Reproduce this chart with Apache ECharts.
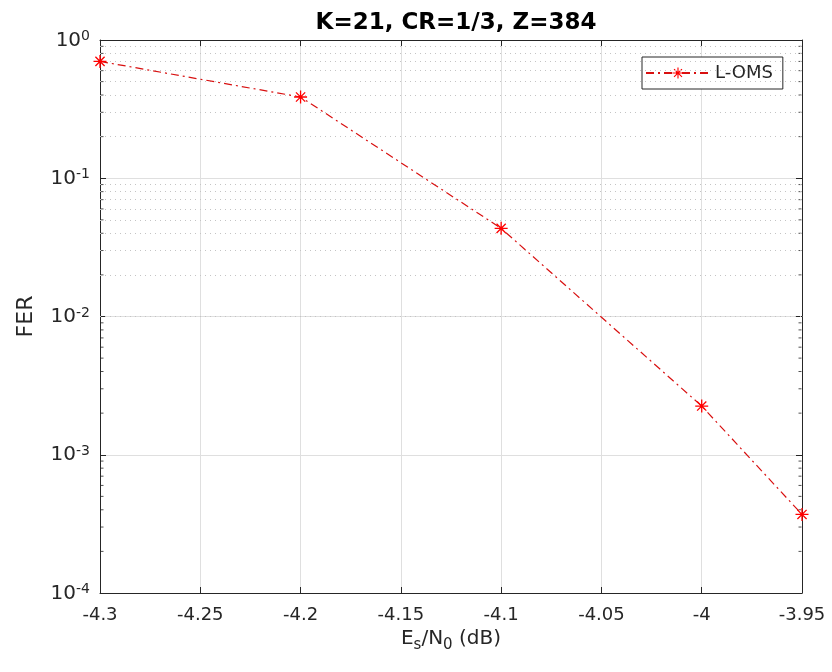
<!DOCTYPE html>
<html>
<head>
<meta charset="utf-8">
<script src="https://cdn.jsdelivr.net/npm/echarts@6/dist/echarts.min.js"></script>
<style>
  html, body { margin: 0; padding: 0; background: #fff; }
  #fer { width: 832px; height: 672px; }
</style>
</head>
<body>
<div id="fer"></div>
<script>
var ferChart = echarts.init(document.getElementById("fer"));

// Es/N0 in dB and the frame error rate
let snrDb = [-4.3, -4.2, -4.1, -4.0, -3.95];
let ferLoms = [0.70, 0.387, 0.0434, 0.00225, 0.00037];

// minor log grid lines (2..9 x 10^k)
let minorGrid = [];
for (let k = -4; k <= -1; k++) {
  for (let m = 2; m <= 9; m++) {
    minorGrid.push(m * Math.pow(10, k));
  }
}

// asterisk marker like matlab '*'
var asterisk = 'path://M1 9.1L19 9.1L19 10.9L1 10.9Z' +
  'M9.1 1L10.9 1L10.9 19L9.1 19Z' +
  'M4.28 3L17 15.72L15.72 17L3 4.28Z' +
  'M15.72 3L17 4.28L4.28 17L3 15.72Z';

var txt = '#262626';
var font = 'DejaVu Sans';
var xMin = -4.3, xMax = -3.95;

function xLabel(v) {
  return String(parseFloat(v.toFixed(2)));
}
function yLabel(v) {
  var e = Math.round(Math.log10(v));
  return '{b|10}{s|' + e + '}';
}

var option = {
  animation: false,
  backgroundColor: '#fff',
  textStyle: { fontFamily: font },
  title: {
    text: 'K=21, CR=1/3, Z=384',
    left: 451,
    top: 7,
    textAlign: 'center',
    textStyle: { fontSize: 23, fontWeight: 'bold', color: '#000', fontFamily: font }
  },
  grid: { left: 100, right: 30, top: 40, bottom: 79 },
  legend: {
    left: 642,
    top: 57,
    orient: 'vertical',
    backgroundColor: '#fff',
    borderColor: txt,
    borderWidth: 1,
    borderRadius: 0,
    padding: [7, 10, 7, 3],
    itemWidth: 64,
    itemHeight: 14,
    itemGap: 0,
    textStyle: { fontSize: 18, color: txt, fontFamily: font },
    data: ['L-OMS']
  },
  xAxis: [
    {
      type: 'value',
      min: xMin,
      max: xMax,
      interval: 0.05,
      name: '{a|E}{sub|s}{a|/N}{sub|0}{a| (dB)}',
      nameLocation: 'middle',
      nameGap: 30,
      nameTextStyle: {
        rich: {
          a: { fontSize: 20, color: txt, fontFamily: font },
          sub: { fontSize: 15, color: txt, fontFamily: font, padding: [12, 0, 0, 0] }
        }
      },
      axisLine: { show: true, lineStyle: { color: txt, width: 1 } },
      axisTick: { inside: true, length: 6, lineStyle: { color: txt } },
      axisLabel: { formatter: xLabel, fontSize: 18, color: txt, margin: 13, fontFamily: font },
      splitLine: { show: true, lineStyle: { color: '#dfdfdf', width: 1 } }
    },
    {
      type: 'value',
      position: 'top',
      min: xMin,
      max: xMax,
      interval: 0.05,
      axisLine: { show: true, lineStyle: { color: txt, width: 1 } },
      axisTick: { inside: true, length: 6, lineStyle: { color: txt } },
      axisLabel: { show: false },
      splitLine: { show: false }
    }
  ],
  yAxis: [
    {
      type: 'log',
      logBase: 10,
      min: 1e-4,
      max: 1,
      name: 'FER',
      nameLocation: 'middle',
      nameRotate: 90,
      nameGap: 63,
      nameTextStyle: { fontSize: 22, color: txt, fontFamily: font },
      axisLine: { show: true, lineStyle: { color: txt, width: 1 } },
      axisTick: { inside: true, length: 6, lineStyle: { color: txt } },
      axisLabel: {
        formatter: yLabel,
        margin: 10,
        rich: {
          b: { fontSize: 20, color: txt, fontFamily: font, lineHeight: 21, verticalAlign: 'bottom' },
          s: { fontSize: 14, color: txt, fontFamily: font, lineHeight: 15, verticalAlign: 'top', padding: [0, 0, 12, 0] }
        }
      },
      splitLine: { show: true, lineStyle: { color: '#dfdfdf', width: 1 } }
    },
    {
      type: 'log',
      logBase: 10,
      position: 'right',
      min: 1e-4,
      max: 1,
      axisLine: { show: true, lineStyle: { color: txt, width: 1 } },
      axisTick: { inside: true, length: 6, lineStyle: { color: txt } },
      axisLabel: { show: false },
      splitLine: { show: false }
    }
  ],
  series: [
    {
      name: 'minor',
      type: 'line',
      data: [],
      silent: true,
      markLine: {
        silent: true,
        symbol: 'none',
        label: { show: false },
        lineStyle: { color: '#c4c4c4', type: [1, 4], width: 1 },
        data: minorGrid.map(function (v) { return { yAxis: v }; })
      }
    },
    {
      // minor ticks on the left edge
      name: 'minorTickL',
      type: 'scatter',
      silent: true,
      symbol: 'rect',
      symbolSize: [3, 1],
      symbolOffset: [2, 0],
      itemStyle: { color: txt },
      data: minorGrid.map(function (v) { return [xMin, v]; })
    },
    {
      // minor ticks on the right edge
      name: 'minorTickR',
      type: 'scatter',
      silent: true,
      symbol: 'rect',
      symbolSize: [3, 1],
      symbolOffset: [-2, 0],
      itemStyle: { color: txt },
      data: minorGrid.map(function (v) { return [xMax, v]; })
    },
    {
      name: 'L-OMS',
      type: 'line',
      data: snrDb.map(function (x, i) { return [x, ferLoms[i]]; }),
      color: '#ff0000',
      symbol: asterisk,
      symbolSize: 13,
      showAllSymbol: true,
      itemStyle: { color: '#ff0000' },
      lineStyle: { color: '#d81010', width: 1.2, type: [8, 4, 2, 4] },
      z: 5
    }
  ]
};

ferChart.setOption(option);
</script>
</body>
</html>
